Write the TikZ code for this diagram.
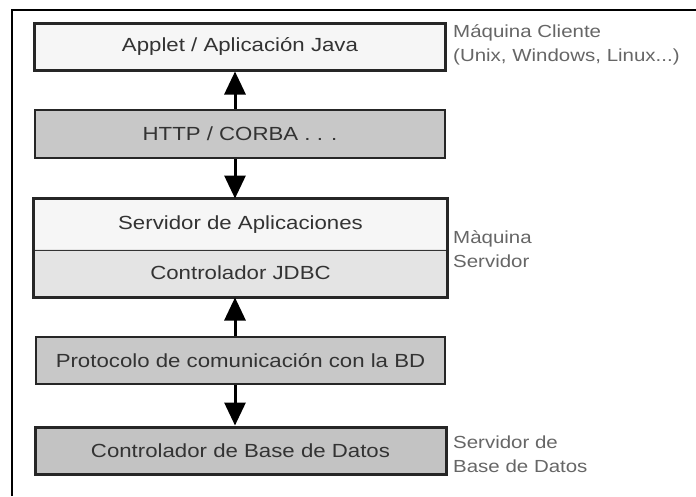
\documentclass[tikz,border=0pt]{standalone}
\usepackage{fontspec}
\setmainfont{Liberation Sans}[FakeStretch=1.17]
\usepackage{xcolor}
\usetikzlibrary{arrows.meta}
\usetikzlibrary{shapes.multipart}

\definecolor{boxlight}{HTML}{F6F6F6}
\definecolor{boxmid}{HTML}{E4E4E4}
\definecolor{boxgray}{HTML}{C8C8C8}
\definecolor{boxdark}{HTML}{C3C3C3}

\begin{document}
\begin{tikzpicture}[x=1pt,y=-1pt,
    layer/.style={draw=black!85,line width=3pt,minimum width=411pt,minimum height=47pt,
      inner sep=0pt,text=black!80,font=\fontsize{19}{22}\selectfont},
    thinlayer/.style={layer,line width=2pt},
    side/.style={anchor=base west,inner sep=0pt,align=left,text=black!60,
      font=\fontsize{17.5}{24}\selectfont},
    link/.style={line width=3pt,-{Triangle[length=23pt 0,width=21pt 0]}}]
  \useasboundingbox (0,0) rectangle (696,496);
  \draw[line width=1.5pt] (12,496) -- (12,10) -- (696,10);
  \node (app) [layer,fill=boxlight] at (240,46.5) {Applet / Aplicación Java};
  \node (http) [thinlayer,fill=boxgray,minimum width=410pt,minimum height=48pt] at (240,134) {HTTP / CORBA . . .};
  \node (srv) [layer,draw=none,fill=boxlight,minimum height=49pt] at (240.5,224.5) {Servidor de Aplicaciones};
  \node (jdbc) [layer,draw=none,fill=boxmid] at (240.5,272.5) {Controlador JDBC};
  \draw[line width=1.5pt,black!80] (srv.south west) -- (srv.south east);
  \draw[line width=3pt,black!85] (srv.north west) rectangle (jdbc.south east);
  \node (bdp) [thinlayer,fill=boxgray,minimum width=409pt] at (240.5,360.5) {Protocolo de comunicación con la BD};
  \node (ctl) [layer,fill=boxdark] at (240.5,450.5) {Controlador de Base de Datos};
  \node (cli) [side] at (453,61) {Máquina Cliente\\(Unix, Windows, Linux...)};
  \node (srvm) [side] at (453,267) {Màquina\\Servidor};
  \node (bdm) [side] at (453,472) {Servidor de\\Base de Datos};
  \draw[link] ([xshift=-5pt]http.north) -- ([xshift=-5pt]app.south);
  \draw[link] ([xshift=-5pt]http.south) -- ([xshift=-5.5pt]srv.north);
  \draw[link] ([xshift=-5.5pt]bdp.north) -- ([xshift=-5.5pt]jdbc.south);
  \draw[link] ([xshift=-5.5pt]bdp.south) -- ([xshift=-5.5pt]ctl.north);
\end{tikzpicture}
\end{document}
